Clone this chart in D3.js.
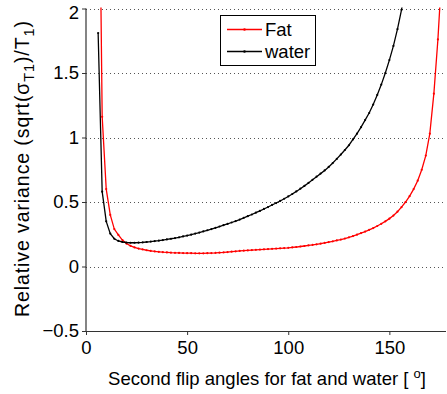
<!DOCTYPE html>
<html>
<head>
<meta charset="utf-8">
<script src="https://cdn.jsdelivr.net/npm/d3@7"></script>
<style>
  html, body { margin: 0; padding: 0; background: #fff; }
  svg { display: block; font-family: "Liberation Sans", Arial, Helvetica, sans-serif; }
</style>
</head>
<body>
<svg id="chart" width="447" height="394"></svg>
<script>
// ---- data ----
const waterAngles = [6,8,10,12,14,16,18,20,22,24,26,28,30,32,34,36,38,40,42,44,46,48,50,52,54,56,58,60,62,64,66,68,70,72,74,76,78,80,82,84,86,88,90,92,94,96,98,100,102,104,106,108,110,112,114,116,118,120,122,124,126,128,130,132,134,136,138,140,142,144,146,148,150,152,154,156,158];
const waterValues = [1.81,0.58,0.35,0.255,0.215,0.198,0.19,0.186,0.184,0.184,0.185,0.187,0.19,0.193,0.197,0.2,0.205,0.21,0.215,0.22,0.226,0.233,0.24,0.247,0.255,0.263,0.272,0.281,0.29,0.3,0.31,0.32,0.33,0.341,0.352,0.364,0.377,0.39,0.403,0.417,0.431,0.446,0.461,0.477,0.492,0.508,0.525,0.543,0.562,0.582,0.603,0.625,0.648,0.672,0.696,0.72,0.745,0.772,0.802,0.834,0.868,0.903,0.94,0.985,1.03,1.08,1.135,1.19,1.255,1.33,1.41,1.5,1.6,1.71,1.84,1.99,2.16];
const fatAngles = [6,8,10,12,14,16,18,20,22,24,26,28,30,32,34,36,38,40,42,44,46,48,50,52,54,56,58,60,62,64,66,68,70,72,74,76,78,80,82,84,86,88,90,92,94,96,98,100,102,104,106,108,110,112,114,116,118,120,122,124,126,128,130,132,134,136,138,140,142,144,146,148,150,152,154,156,158,160,162,164,166,168,170,172,174,176];
const fatValues = [4.0,1.16,0.6,0.4,0.29,0.245,0.205,0.178,0.16,0.148,0.139,0.132,0.126,0.121,0.117,0.114,0.111,0.109,0.107,0.106,0.105,0.104,0.103,0.103,0.102,0.102,0.102,0.103,0.104,0.105,0.107,0.109,0.112,0.115,0.118,0.121,0.123,0.125,0.127,0.129,0.131,0.133,0.135,0.137,0.139,0.141,0.143,0.145,0.148,0.151,0.155,0.159,0.163,0.167,0.172,0.177,0.183,0.189,0.195,0.202,0.209,0.217,0.226,0.236,0.247,0.259,0.271,0.284,0.298,0.314,0.331,0.35,0.371,0.395,0.425,0.46,0.5,0.545,0.6,0.665,0.75,0.86,1.03,1.34,1.76,2.3];
const seriesNames = ["Fat", "water"];
const seriesColors = ["#ff0000", "#000000"];
const xTicks = [0, 50, 100, 150];
const yTicks = [-0.5, 0, 0.5, 1, 1.5, 2];
const yTickLabels = ["\u22120.5", "0", "0.5", "1", "1.5", "2"];

(function () {
// ---- layout ----
const svg = d3.select("#chart");
const pL = 86, pR = 446, pT = 8.5, pB = 331;
const x = d3.scaleLinear().domain([0, 178]).range([pL, pR]);
const y = d3.scaleLinear().domain([-0.5, 2]).range([pB, pT]);
const FS = 18.5;

// grid (dotted horizontal)
svg.append("g").selectAll("line").data(yTicks.filter(v => v > -0.5)).enter().append("line")
  .attr("x1", pL).attr("x2", pR)
  .attr("y1", d => Math.round(y(d)) + 0.5).attr("y2", d => Math.round(y(d)) + 0.5)
  .attr("stroke", "#555").attr("stroke-width", 1).attr("stroke-dasharray", "1,3");

// axes
const xAxis = svg.append("g").attr("transform", `translate(0,${pB})`)
  .call(d3.axisBottom(x).tickValues(xTicks).tickSizeInner(4).tickSizeOuter(0).tickPadding(6).tickFormat(d3.format("d")));
const yAxis = svg.append("g").attr("transform", `translate(${pL},0)`)
  .call(d3.axisLeft(y).tickValues(yTicks).tickSizeInner(4).tickSizeOuter(0).tickPadding(3).tickFormat((d, i) => yTickLabels[i]));
[xAxis, yAxis].forEach(a => {
  a.select(".domain").attr("stroke", "#333").attr("stroke-width", 1.2);
  a.selectAll(".tick line").attr("stroke", "#333").attr("stroke-width", 1);
  a.selectAll(".tick text").attr("fill", "#000").style("font-size", FS + "px").style("font-family", "'Liberation Sans', Arial, sans-serif");
});
// keep the top label inside the figure (as in the reference)
yAxis.selectAll(".tick text").filter(d => d === 2).attr("dy", "0.52em");
xAxis.select(".domain").attr("d", `M${pL},0.5H${pR}`);
yAxis.select(".domain").attr("d", `M0,${pT}V${pB + 1}`);

// clip
svg.append("clipPath").attr("id", "plotclip").append("rect")
  .attr("x", pL).attr("y", pT - 1).attr("width", pR - pL).attr("height", pB - pT + 1);

const series = [
  { name: seriesNames[0], color: seriesColors[0], pts: fatAngles.map((a, i) => [a, fatValues[i]]) },
  { name: seriesNames[1], color: seriesColors[1], pts: waterAngles.map((a, i) => [a, waterValues[i]]) }
];
const line = d3.line().x(d => x(d[0])).y(d => y(d[1]));
const plot = svg.append("g").attr("clip-path", "url(#plotclip)");
series.forEach(s => {
  plot.append("path").attr("d", line(s.pts)).attr("fill", "none")
    .attr("stroke", s.color).attr("stroke-width", 1.3);
  plot.append("g").selectAll("circle").data(s.pts).enter().append("circle")
    .attr("cx", d => x(d[0])).attr("cy", d => y(d[1])).attr("r", 1.1).attr("fill", s.color);
});

// legend
const lg = svg.append("g");
lg.append("rect").attr("x", 220.5).attr("y", 15.5).attr("width", 95).attr("height", 50)
  .attr("fill", "#fff").attr("stroke", "#000").attr("stroke-width", 1);
series.forEach((s, i) => {
  const ly = 29.5 + i * 22;
  lg.append("line").attr("x1", 227).attr("x2", 262).attr("y1", ly).attr("y2", ly)
    .attr("stroke", s.color).attr("stroke-width", 1.3);
  lg.append("circle").attr("cx", 244.5).attr("cy", ly).attr("r", 1.3).attr("fill", s.color);
  lg.append("text").attr("x", 265).attr("y", ly + 6.5).style("font-size", FS + "px").text(s.name);
});

// x label
const xl = svg.append("text").attr("x", (pL + pR) / 2 + 1).attr("y", 385)
  .attr("text-anchor", "middle").style("font-size", FS + "px");
xl.append("tspan").text("Second flip angles for fat and water [ ");
xl.append("tspan").attr("dy", -7).style("font-size", "13px").text("o");
xl.append("tspan").attr("dy", 7).text("]");

// y label
const yl = svg.append("text").attr("transform", `translate(29,169)rotate(-90)`)
  .attr("text-anchor", "middle").style("font-size", "19.5px")
  .attr("textLength", 296).attr("lengthAdjust", "spacing");
yl.append("tspan").text("Relative variance (sqrt(\u03c3");
yl.append("tspan").attr("dy", 5).style("font-size", "14.5px").text("T1");
yl.append("tspan").attr("dy", -5).text(")/T");
yl.append("tspan").attr("dy", 5).style("font-size", "14.5px").text("1");
yl.append("tspan").attr("dy", -5).text(")");
})();
</script>
</body>
</html>
